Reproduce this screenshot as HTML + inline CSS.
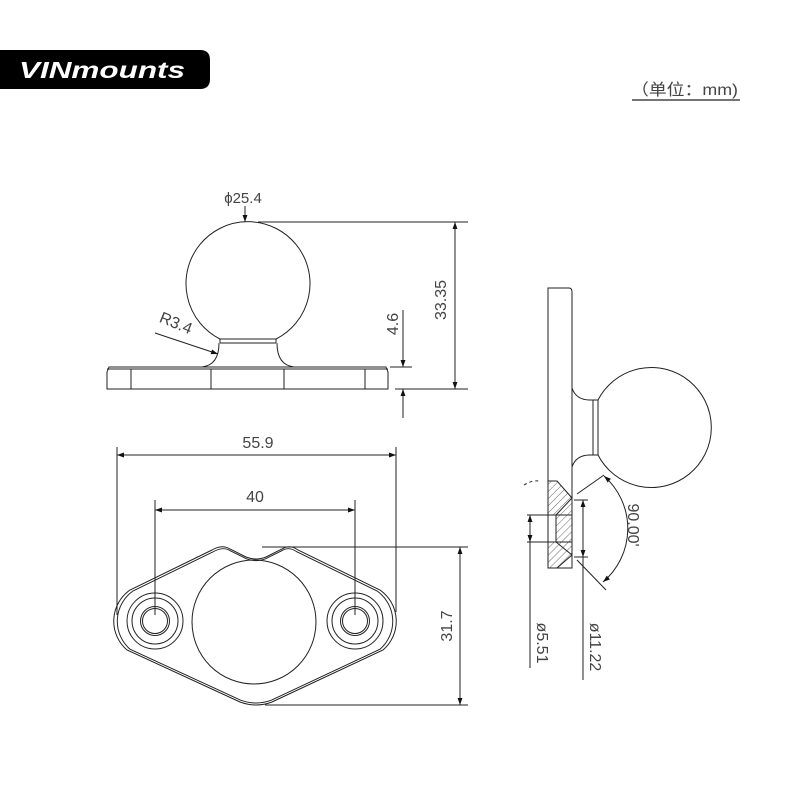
<!DOCTYPE html>
<html><head><meta charset="utf-8"><style>
html,body{margin:0;padding:0;background:#fff}
svg{display:block}
text{font-family:"Liberation Sans","Noto Sans CJK SC",sans-serif;fill:#222}
</style></head><body>
<svg width="800" height="800" viewBox="0 0 800 800" xmlns="http://www.w3.org/2000/svg">
<defs>
<marker id="a" viewBox="0 0 10 10" refX="10" refY="5" markerWidth="11" markerHeight="7" orient="auto-start-reverse" markerUnits="userSpaceOnUse"><path d="M0,1.5 L10,5 L0,8.5 Z" fill="#111"/></marker>
<pattern id="h" width="5" height="5" patternUnits="userSpaceOnUse" patternTransform="rotate(45)"><line x1="0" y1="0" x2="0" y2="5" stroke="#444" stroke-width="0.8"/></pattern>
</defs>
<!-- logo -->
<path d="M0,50 H200 Q210,50 210,60 V79 Q210,89 200,89 H0 Z" fill="#000"/>
<text x="19" y="78" font-size="23" font-weight="bold" font-style="italic" textLength="166" lengthAdjust="spacingAndGlyphs" style="fill:#fff">VINmounts</text>
<text x="631" y="95" font-size="16" textLength="107" lengthAdjust="spacingAndGlyphs" style="fill:#444">（单位：mm)</text>
<line x1="632" y1="100" x2="740" y2="100" stroke="#222" stroke-width="1.2"/>

<g fill="none" stroke="#222" stroke-width="1">
<!-- top front view -->
<path d="M220,339 A62,62 0 1 1 276,339"/>
<line x1="220" y1="339" x2="276" y2="339"/><line x1="220" y1="343" x2="276" y2="343"/>
<line x1="220" y1="339" x2="220" y2="343"/><line x1="276" y1="339" x2="276" y2="343"/>
<path d="M219,343 Q219,365 202,367"/><path d="M277,343 Q277,365 294,367"/>
<path d="M109,367 H386 L388,372 V389 H107 V372 Z"/>
<line x1="107" y1="369" x2="388" y2="369"/>
<line x1="131" y1="369" x2="131" y2="389"/><line x1="211" y1="369" x2="211" y2="389"/>
<line x1="284" y1="369" x2="284" y2="389"/><line x1="365" y1="369" x2="365" y2="389"/>
<!-- dims -->
<line x1="258" y1="222" x2="468" y2="222"/>
<line x1="455" y1="222" x2="455" y2="389" marker-start="url(#a)" marker-end="url(#a)"/>
<line x1="395" y1="389" x2="468" y2="389"/>
<line x1="390" y1="367" x2="412" y2="367"/>
<line x1="403" y1="310" x2="403" y2="367" marker-end="url(#a)"/>
<line x1="403" y1="418" x2="403" y2="389" marker-end="url(#a)"/>
<line x1="245" y1="206" x2="245" y2="222" marker-end="url(#a)"/>
<line x1="155" y1="333" x2="218" y2="354" marker-end="url(#a)"/>

<!-- bottom view -->
<path d="M212,550 Q222,544 230,549 L246,557 Q256,561 266,557 L282,549 Q290,544 298,550 L380,590 A38,38 0 0 1 383,650 L272,702 Q256,708 240,702 L127,650 A38,38 0 0 1 130,590 Z"/>
<path transform="translate(256,625) scale(0.975) translate(-256,-625)" d="M212,550 Q222,544 230,549 L246,557 Q256,561 266,557 L282,549 Q290,544 298,550 L380,590 A38,38 0 0 1 383,650 L272,702 Q256,708 240,702 L127,650 A38,38 0 0 1 130,590 Z"/>
<circle cx="155" cy="621" r="14.5"/><circle cx="155" cy="621" r="12.5"/><circle cx="155" cy="621" r="23"/><circle cx="155" cy="621" r="28"/>
<circle cx="355" cy="621" r="14.5"/><circle cx="355" cy="621" r="12.5"/><circle cx="355" cy="621" r="23"/><circle cx="355" cy="621" r="28"/>
<circle cx="254" cy="622" r="62"/>
<line x1="117" y1="447" x2="117" y2="615"/><line x1="396" y1="447" x2="396" y2="612"/>
<line x1="117" y1="455" x2="396" y2="455" marker-start="url(#a)" marker-end="url(#a)"/>
<line x1="155" y1="500" x2="155" y2="615"/><line x1="355" y1="500" x2="355" y2="615"/>
<line x1="155" y1="510" x2="355" y2="510" marker-start="url(#a)" marker-end="url(#a)"/>
<line x1="262" y1="547" x2="468" y2="547"/><line x1="265" y1="705" x2="468" y2="705"/>
<line x1="460" y1="547" x2="460" y2="705" marker-start="url(#a)" marker-end="url(#a)"/>

<!-- side view -->
<path d="M548,288 H569 Q572,288 572,292 V568 H548 Z"/>
<path d="M598,400 A60,60 0 1 1 598,455"/>
<line x1="588" y1="400" x2="598" y2="400"/><line x1="588" y1="455" x2="598" y2="455"/>
<line x1="593" y1="400" x2="593" y2="455"/><line x1="598" y1="400" x2="598" y2="455"/>
<path d="M572,388 Q576,400 590,400"/><path d="M572,467 Q576,455 590,455"/>
<path d="M548,481 L557,481 L572,498 L572,555 L557,568 L548,568 L548,542 L556,542 L556,515 L548,515 Z M572,498 L556,515 M572,555 L556,542" fill="url(#h)"/>
<line x1="548" y1="515" x2="572" y2="515"/><line x1="548" y1="542" x2="572" y2="542"/>
<line x1="527" y1="515" x2="548" y2="515"/><line x1="527" y1="542" x2="548" y2="542"/>
<line x1="530" y1="515" x2="530" y2="668" />
<line x1="530" y1="530" x2="530" y2="515" marker-end="url(#a)"/><line x1="530" y1="528" x2="530" y2="542" marker-end="url(#a)"/>
<line x1="574" y1="500" x2="588" y2="500"/><line x1="574" y1="557" x2="588" y2="557"/>
<line x1="583" y1="557" x2="583" y2="680"/>
<line x1="583" y1="500" x2="583" y2="557" marker-start="url(#a)" marker-end="url(#a)"/>
<line x1="577" y1="494" x2="604" y2="475"/><line x1="577" y1="560" x2="606" y2="590"/>
<path d="M604,476 A70,70 0 0 1 603,582" marker-start="url(#a)" marker-end="url(#a)"/>
<path d="M524,485 Q532,480 540,481" stroke-dasharray="3,3"/>
</g>

<text x="243" y="203" font-size="15" text-anchor="middle" style="fill:#444">ϕ25.4</text>
<text font-size="16" transform="translate(446,300) rotate(-90)" text-anchor="middle" style="fill:#444">33.35</text>
<text font-size="16" transform="translate(398,324) rotate(-90)" text-anchor="middle" style="fill:#444">4.6</text>
<text font-size="16" transform="translate(174,328) rotate(22)" text-anchor="middle" style="fill:#444">R3.4</text>
<text x="258" y="448" font-size="16" text-anchor="middle" style="fill:#444">55.9</text>
<text x="255" y="502" font-size="16" text-anchor="middle" style="fill:#444">40</text>
<text font-size="16" transform="translate(452,626) rotate(-90)" text-anchor="middle" style="fill:#444">31.7</text>
<text font-size="16" transform="translate(628,525) rotate(90)" text-anchor="middle" style="fill:#444">90.00'</text>
<text font-size="16" transform="translate(537,643) rotate(90)" text-anchor="middle" style="fill:#444">ø5.51</text>
<text font-size="16" transform="translate(590,647) rotate(90)" text-anchor="middle" style="fill:#444">ø11.22</text>
</svg>
</body></html>
